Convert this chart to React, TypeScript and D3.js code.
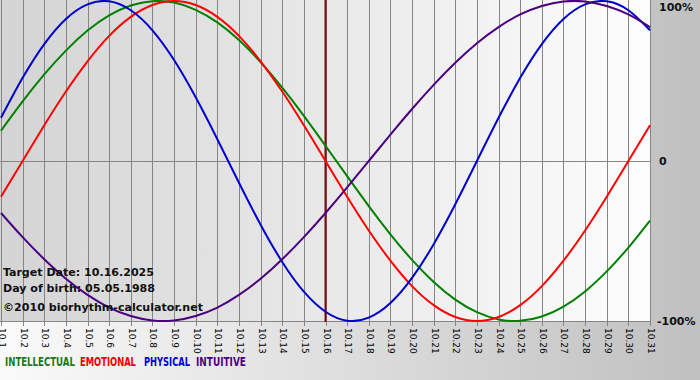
import React, { useLayoutEffect, useRef, useState } from "react";
import * as d3 from "d3";

const days = ["10.1","10.2","10.3","10.4","10.5","10.6","10.7","10.8","10.9","10.10","10.11","10.12","10.13","10.14","10.15","10.16","10.17","10.18","10.19","10.20","10.21","10.22","10.23","10.24","10.25","10.26","10.27","10.28","10.29","10.30","10.31"];

const intellectual = [0.189,0.372,0.541,0.690,0.815,0.910,0.972,0.999,0.990,0.945,0.866,0.756,0.618,0.458,0.282,0.095,-0.095,-0.282,-0.458,-0.618,-0.756,-0.866,-0.945,-0.990,-0.999,-0.972,-0.910,-0.815,-0.690,-0.541,-0.372];
const emotional = [-0.223,0,0.223,0.434,0.623,0.782,0.901,0.975,1,0.975,0.901,0.782,0.623,0.434,0.223,0,-0.223,-0.434,-0.623,-0.782,-0.901,-0.975,-1,-0.975,-0.901,-0.782,-0.623,-0.434,-0.223,0,0.223];
const physical = [0.270,0.520,0.731,0.888,0.979,0.998,0.942,0.817,0.631,0.398,0.136,-0.136,-0.398,-0.631,-0.817,-0.942,-0.998,-0.979,-0.888,-0.731,-0.520,-0.270,0,0.270,0.520,0.731,0.888,0.979,0.998,0.942,0.817];
const intuitive = [-0.325,-0.476,-0.614,-0.736,-0.837,-0.916,-0.969,-0.997,-0.997,-0.969,-0.916,-0.837,-0.736,-0.614,-0.476,-0.325,-0.165,0,0.165,0.325,0.476,0.614,0.736,0.837,0.916,0.969,0.997,0.997,0.969,0.916,0.837];

const seriesNames = ["INTELLECTUAL","EMOTIONAL","PHYSICAL","INTUITIVE"];
const seriesColors = ["#008000","#ff0000","#0000cc","#4b0082"];
const legendColors = ["#1a7a1a","#ee0000","#0000dd","#4b0082"];
const yTicks = [1, 0, -1];
const yTickLabels = ["100%", "0", "-100%"];
const targetDay = "10.16";
const infoLines = ["Target Date: 10.16.2025", "Day of birth: 05.05.1988", "\u00a92010 biorhythm-calculator.net"];

export default function App() {
  const W = 700, H = 380;
  const x = d3.scaleLinear().domain([0, days.length - 1]).range([1, 650]);
  const y = d3.scaleLinear().domain([-1, 1]).range([321, 1]);
  const data = [intellectual, emotional, physical, intuitive];
  const line = d3.line<number>().x((_, i) => x(i)).y((v) => y(v)).curve(d3.curveNatural);
  const plotRight = 651;
  const tIdx = days.indexOf(targetDay);
  const legendX = [5, 80, 144, 196];
  const legendW = [70, 56, 46, 50];
  const legendRefs = useRef<(SVGTextElement | null)[]>([]);
  const [scales, setScales] = useState<number[]>([1, 1, 1, 1]);
  useLayoutEffect(() => {
    const s = legendRefs.current.map((el, i) => {
      if (!el) return 1;
      const w = el.getComputedTextLength();
      return w > 0 ? legendW[i] / w : 1;
    });
    setScales(s);
  }, []);
  return (
    <svg width={W} height={H} style={{ position: "absolute", left: 0, top: 0 }}>
      <defs>
        <linearGradient id="bgGrad" x1="0" x2="1" y1="0" y2="0">
          <stop offset="0" stopColor="#fafafa" />
          <stop offset="1" stopColor="#c0c0c0" />
        </linearGradient>
        <linearGradient id="plotGrad" x1="0" x2="1" y1="0" y2="0">
          <stop offset="0" stopColor="#d4d4d4" />
          <stop offset="1" stopColor="#fdfdfd" />
        </linearGradient>
        <clipPath id="plotClip">
          <rect x={0} y={0} width={plotRight} height={322} />
        </clipPath>
      </defs>
      <rect x={0} y={0} width={W} height={H} fill="url(#bgGrad)" />
      <rect x={0} y={0} width={plotRight} height={322} fill="url(#plotGrad)" />
      {days.map((d, i) => (
        <line key={d} x1={Math.round(x(i)) + 0.5} x2={Math.round(x(i)) + 0.5} y1={0} y2={326} stroke="#858585" strokeWidth={1} />
      ))}
      {yTicks.filter((t) => t < 1).map((t) => (
        <line key={t} x1={0} x2={plotRight} y1={Math.round(y(t)) + 0.5} y2={Math.round(y(t)) + 0.5} stroke="#858585" strokeWidth={1} />
      ))}
      <line x1={x(tIdx)} x2={x(tIdx)} y1={0} y2={322} stroke="#7a0a0a" strokeWidth={2} />
      <g clipPath="url(#plotClip)">
        {data.map((s, k) => (
          <path key={k} d={line(s) || ""} fill="none" stroke={seriesColors[k]} strokeWidth={2} />
        ))}
      </g>
      <g fontFamily="'DejaVu Sans Condensed', 'DejaVu Sans', sans-serif" fontWeight="bold" fontSize={11} fill="#111">
        {infoLines.map((t, i) => (
          <text key={i} x={3} y={[276, 292, 311][i]} textLength={[151, 152, 200][i]} lengthAdjust="spacingAndGlyphs">{t}</text>
        ))}
      </g>
      <g fontFamily="'DejaVu Sans', sans-serif" fontWeight="bold" fontSize={11} fill="#111">
        {yTicks.map((t, i) => (
          <text key={t} x={i === 2 ? 657 : 659} y={Math.min(Math.max(y(t), 7), 321)} dominantBaseline="central">{yTickLabels[i]}</text>
        ))}
      </g>
      <g fontFamily="'DejaVu Sans', sans-serif" fontSize={9} fill="#000">
        {days.map((d, i) => (
          <text key={d} transform={`translate(${x(i) + 1},328) rotate(90)`} dominantBaseline="central">{d}</text>
        ))}
      </g>
      <g fontFamily="'DejaVu Sans Condensed', 'DejaVu Sans', sans-serif" fontSize={12} fontWeight="bold">
        {seriesNames.map((n, i) => (
          <text
            key={n}
            ref={(el) => { legendRefs.current[i] = el; }}
            transform={`translate(${legendX[i]},366) scale(${scales[i]},1)`}
            fill={legendColors[i]}
          >{n}</text>
        ))}
      </g>
    </svg>
  );
}
